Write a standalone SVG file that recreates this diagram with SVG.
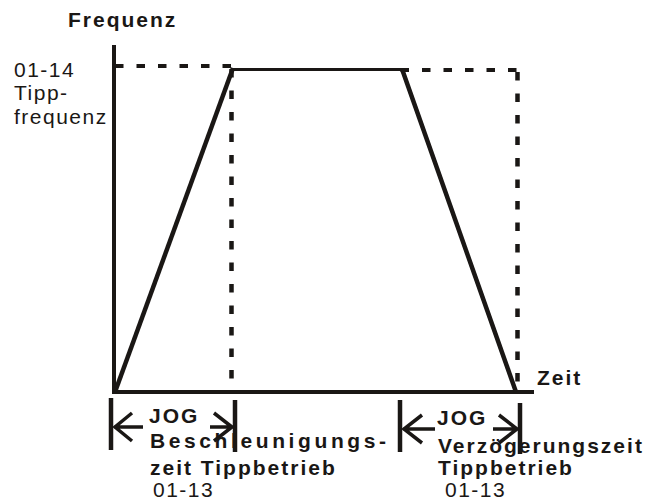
<svg xmlns="http://www.w3.org/2000/svg" width="650" height="501" viewBox="0 0 650 501">
<style>
.ln{stroke:#1a1715;fill:none;stroke-linecap:butt;stroke-linejoin:miter}
.ax{stroke-width:4}
.sl{stroke-width:4.5}
.pl{stroke-width:3}
.dh{stroke-width:4;stroke-dasharray:8.5 13}
.dv{stroke-width:4.5;stroke-dasharray:8.5 13}
.bar{stroke-width:4.5}
.arr{stroke-width:3.5}
.b{font-family:"Liberation Sans",Arial,sans-serif;font-weight:bold;font-size:21px;letter-spacing:2px;fill:#1a1715}
.r{font-family:"Liberation Sans",Arial,sans-serif;font-size:21px;letter-spacing:1.5px;fill:#1a1715}
</style>
<rect width="650" height="501" fill="#fff"/>
<g id="guides">
<path class="ln dh" d="M115,66 H232"/>
<path class="ln dv" d="M231.5,69 V392"/>
<path class="ln dh" d="M400.5,70 H519"/>
<path class="ln dv" d="M517.5,72 V392"/>
</g>
<g id="axes">
<path class="ln ax" d="M114,45 V394"/>
<path class="ln ax" d="M112,392 H534"/>
</g>
<g id="curve">
<path class="ln sl" d="M115,392 L233,68"/>
<path class="ln pl" d="M232,69.5 H402"/>
<path class="ln sl" d="M402,69 L516,392"/>
</g>
<g id="accel">
<path class="ln bar" d="M111,398 V450"/>
<path class="ln bar" d="M235,400 V452"/>
<path class="ln arr" d="M114,427 H143 M132,413 L115,427 L132,441"/>
<path class="ln arr" d="M210,427 H233 M214,413 L232,427 L214,441"/>
</g>
<g id="decel">
<path class="ln bar" d="M400,400 V452"/>
<path class="ln bar" d="M520,403 V454"/>
<path class="ln arr" d="M403,429 H435 M422,415 L404,429 L422,443"/>
<path class="ln arr" d="M493,429 H518 M499,415 L517,429 L499,443"/>
</g>
<g id="labels">
<text class="b" x="68" y="27">Frequenz</text>
<text class="r" x="14" y="77">01-14</text>
<text class="r" x="14" y="100">Tipp-</text>
<text class="r" x="14" y="124">frequenz</text>
<text class="b" x="537" y="385">Zeit</text>
<text class="b" x="149" y="423">JOG</text>
<text class="b" x="150" y="448" style="letter-spacing:3.6px">Beschleunigungs-</text>
<text class="b" x="150" y="475">zeit Tippbetrieb</text>
<text class="r" x="153" y="497">01-13</text>
<text class="b" x="437" y="425">JOG</text>
<text class="b" x="438" y="453">Verzögerungszeit</text>
<text class="b" x="438" y="475">Tippbetrieb</text>
<text class="r" x="445" y="497">01-13</text>
</g>
</svg>
